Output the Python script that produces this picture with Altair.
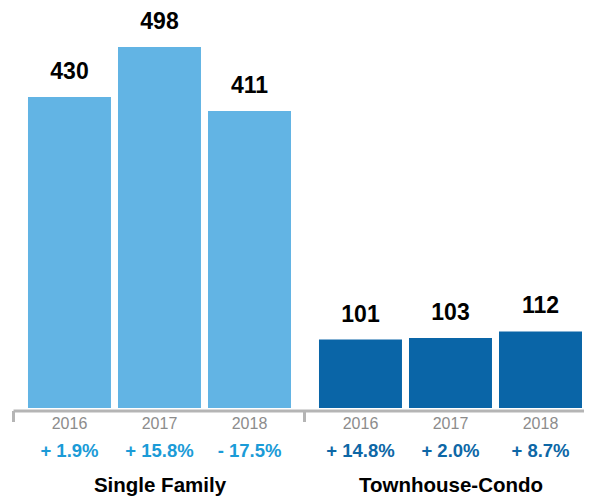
import altair as alt
import pandas as pd

years = ["2016", "2017", "2018"]
groups = ["Single Family", "Townhouse-Condo"]
sf_values = [430, 498, 411]
tc_values = [101, 103, 112]
sf_changes = ["+ 1.9%", "+ 15.8%", "- 17.5%"]
tc_changes = ["+ 14.8%", "+ 2.0%", "+ 8.7%"]

rows = []
for g, vals, chs in zip(groups, [sf_values, tc_values], [sf_changes, tc_changes]):
    for yr, v, c in zip(years, vals, chs):
        rows.append({"group": g, "year": yr, "value": v, "change": c})
df = pd.DataFrame(rows)

FONT = "Liberation Sans"
W, H = 571, 400
GREY = "#b5b5b5"
LIGHT_BAR, DARK_BAR = "#62b4e4", "#0a65a7"
LIGHT_TXT, DARK_TXT = "#1b9bd7", "#0d67a6"

x = alt.X(
    "group:N",
    sort=groups,
    title=None,
    scale=alt.Scale(paddingInner=0.0962, paddingOuter=0.0292, align=0.882),
    axis=alt.Axis(
        labelAngle=0,
        labelFont=FONT,
        labelFontSize=20.5,
        labelFontWeight="bold",
        labelColor="#000000",
        labelBaseline="alphabetic",
        labelPadding=70,
        labelLimit=400,
        labelOffset=146,
        ticks=True,
        tickSize=11,
        tickWidth=3,
        tickColor=GREY,
        tickOffset=-146,
        domainColor=GREY,
        domainWidth=3,
        offset=2.5,
        grid=False,
    ),
)
xo = alt.XOffset("year:N", sort=years, scale=alt.Scale(paddingInner=0.078, paddingOuter=0))

base = alt.Chart(df).encode(x=x, xOffset=xo)

bars = base.mark_bar(clip=True).encode(
    y=alt.Y("value:Q", scale=alt.Scale(domain=[8.14, 550.9], zero=False, nice=False), axis=None),
    color=alt.Color("group:N", sort=groups, scale=alt.Scale(domain=groups, range=[LIGHT_BAR, DARK_BAR]), legend=None),
)

values = base.mark_text(
    dy=-18, baseline="alphabetic", fontSize=23, fontWeight="bold", font=FONT, color="#000000"
).encode(y=alt.Y("value:Q"), text="value:Q")

year_txt = base.mark_text(
    baseline="alphabetic", fontSize=16, font=FONT, color="#8c8c8c"
).encode(y=alt.value(H + 21), text="year:N")

chg_txt = base.mark_text(
    baseline="alphabetic", fontSize=18.5, fontWeight="bold", font=FONT
).encode(
    y=alt.value(H + 48.7),
    text="change:N",
    color=alt.condition(alt.datum.group == groups[0], alt.value(LIGHT_TXT), alt.value(DARK_TXT)),
)

chart = (
    alt.layer(bars, values, year_txt, chg_txt)
    .properties(
        width=W,
        height=H,
        autosize=alt.AutoSizeParams(type="none"),
        padding={"left": 5, "top": 0, "right": 0, "bottom": 88},
    )
    .configure_view(stroke=None)
)

chart.save("out.html", embed_options={"renderer": "svg", "actions": False})
